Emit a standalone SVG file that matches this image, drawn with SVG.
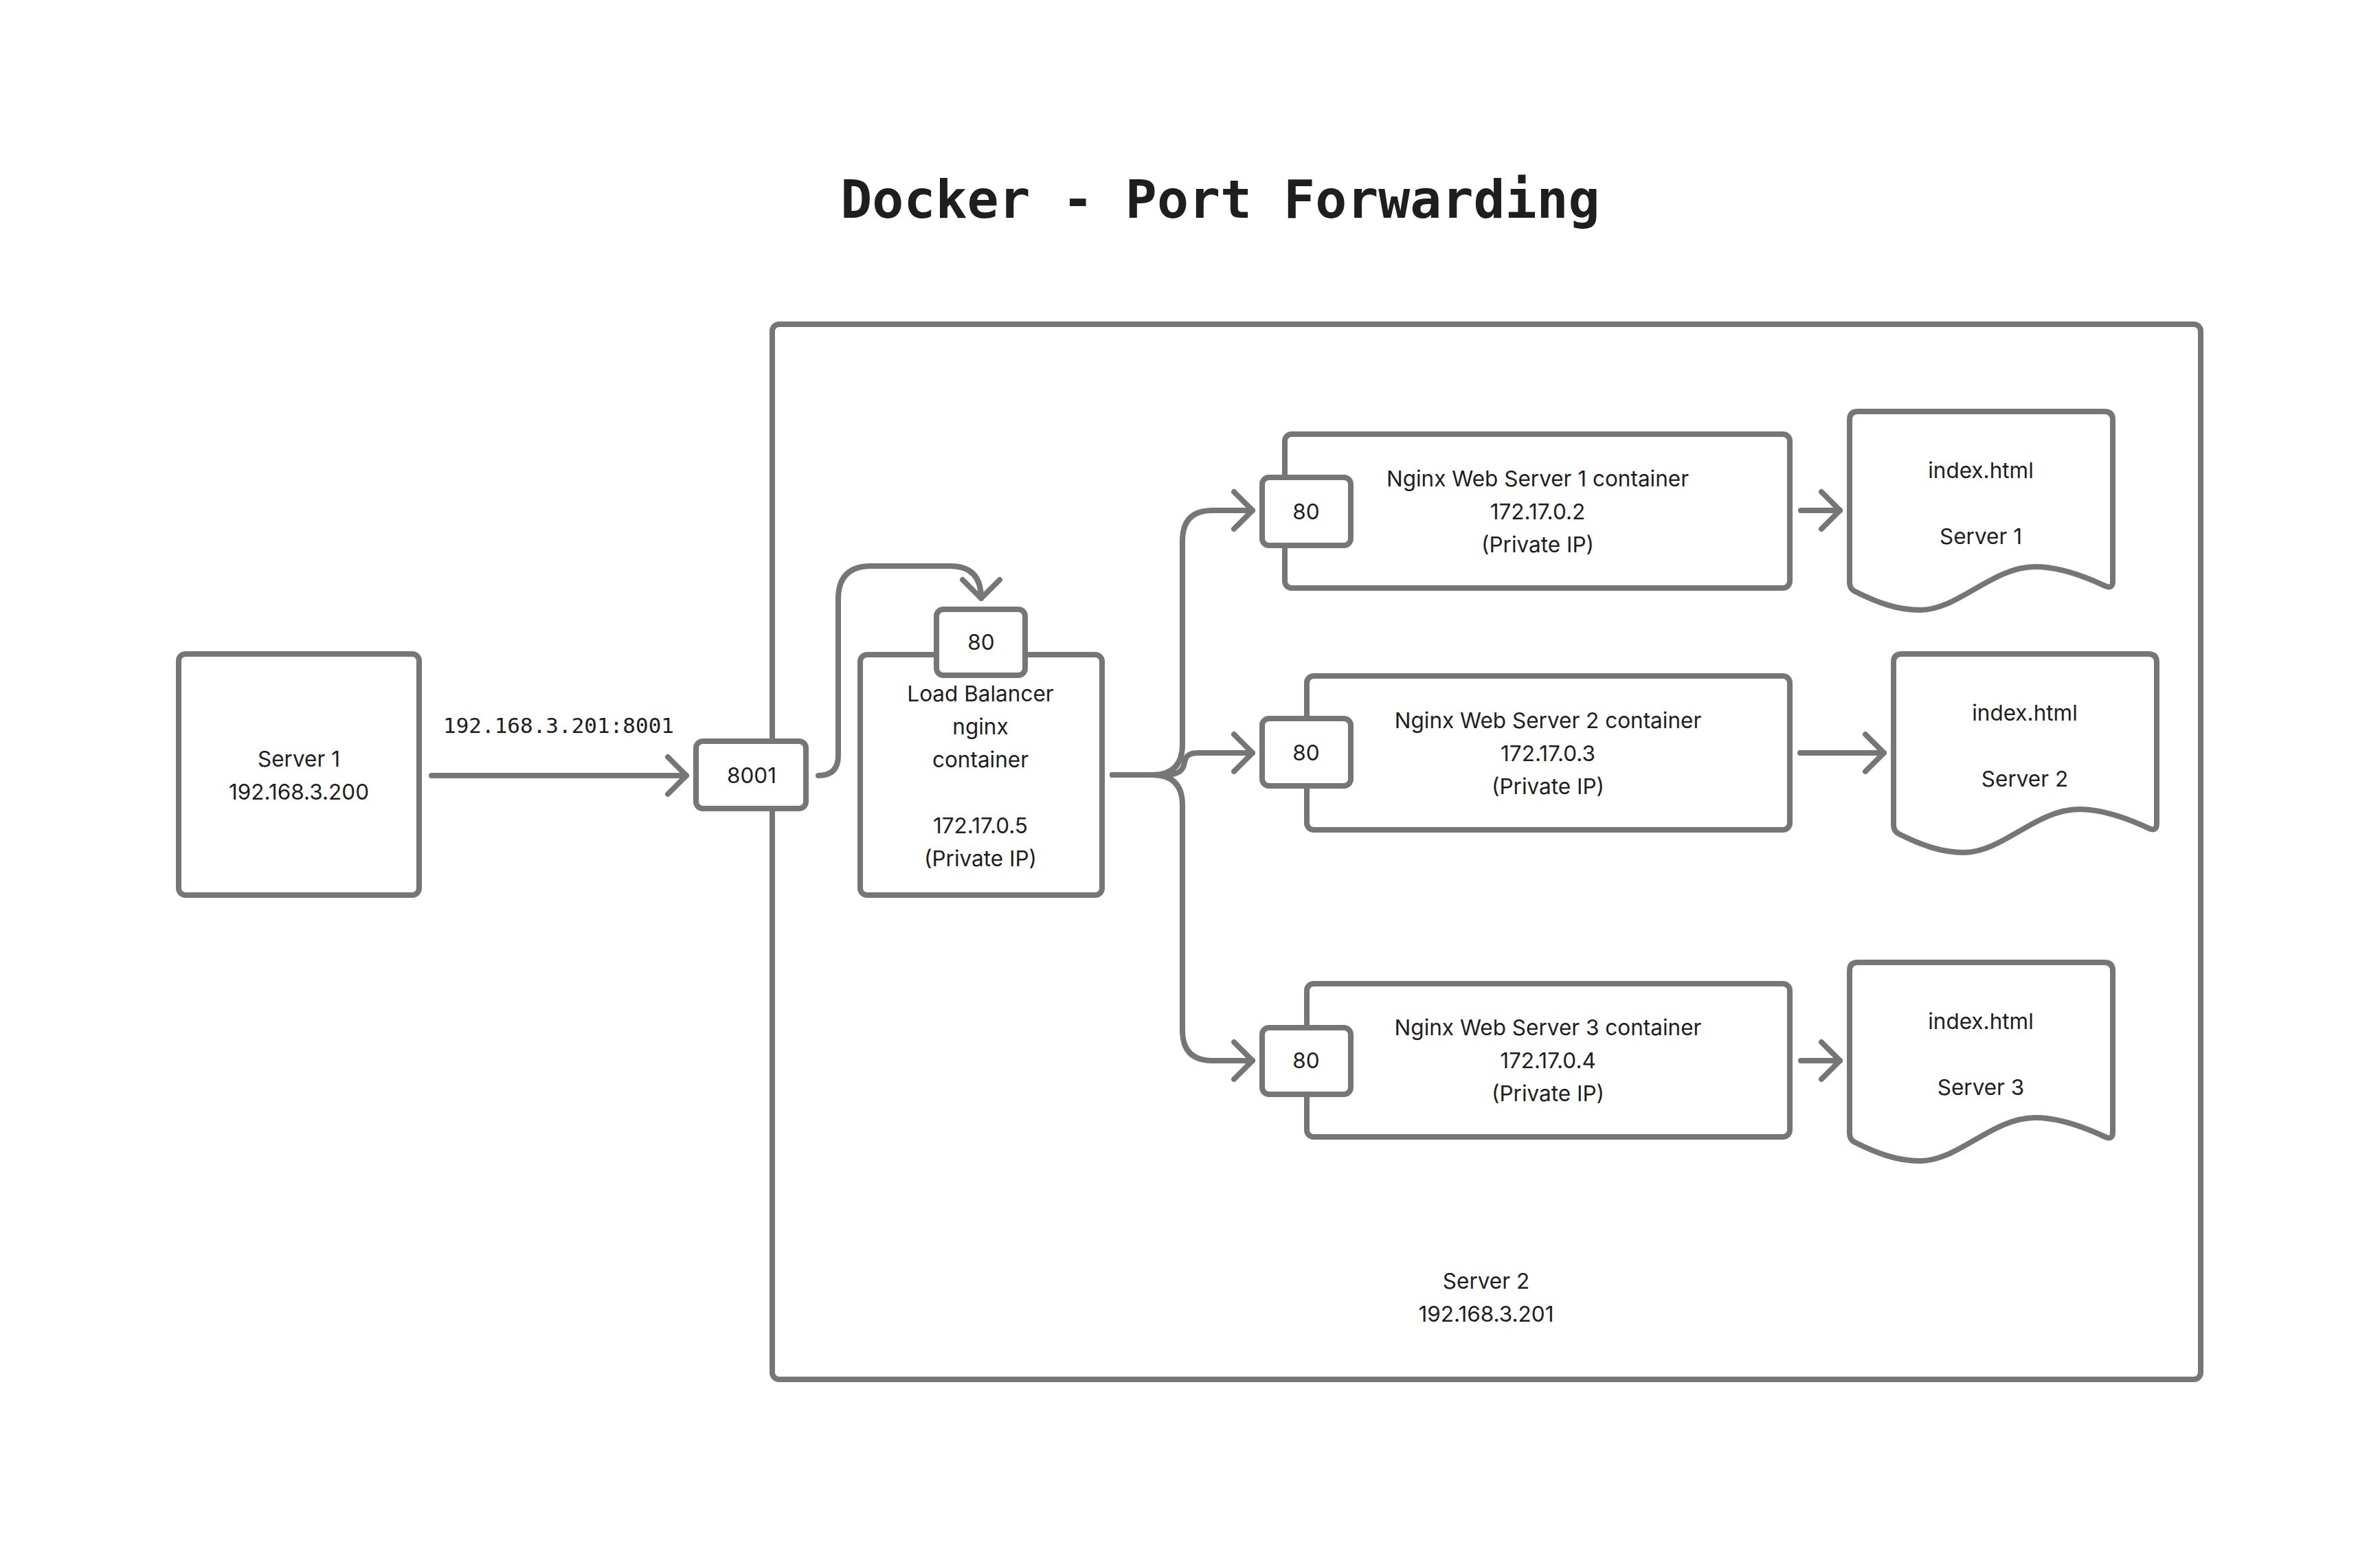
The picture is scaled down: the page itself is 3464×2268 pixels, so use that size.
<svg xmlns="http://www.w3.org/2000/svg" xmlns:xlink="http://www.w3.org/1999/xlink" width="3464" height="2268" viewBox="0 0 3464 2268">
<style>
.box{fill:#ffffff;stroke:#767676;stroke-width:8;}
.port{fill:#ffffff;stroke:#767676;stroke-width:8;}
.edge{fill:none;stroke:#767676;stroke-width:8;stroke-linecap:round;stroke-linejoin:round;}
.t{font-family:Inter,"Noto Sans","Liberation Sans",sans-serif;font-size:31.5px;fill:#1e1e1e;text-anchor:middle;}
.mono{font-family:"DejaVu Sans Mono","Liberation Mono",monospace;fill:#1e1e1e;text-anchor:middle;}
</style>
<defs>
<marker id="arr" markerUnits="userSpaceOnUse" markerWidth="80" markerHeight="80" viewBox="-40 -40 80 80" refX="0" refY="0" orient="auto">
<path d="M-27,-27 L0,0 L-27,27" fill="none" stroke="#767676" stroke-width="8" stroke-linecap="round" stroke-linejoin="round"/>
</marker>
<path id="doc" d="M2692,611 Q2692,599 2704,599 H3063 Q3075,599 3075,611 V846 Q3075,858 3064,853 C3030,837 2995,825 2962,825 C2900,825 2850,888 2795,888 C2760,888 2730,876 2700,861 Q2692,857 2692,848 Z"/>
</defs>
<rect width="3464" height="2268" fill="#ffffff"/>

<text class="mono" x="1776" y="317" font-size="76.5" font-weight="bold">Docker - Port Forwarding</text>

<g id="server2">
<rect class="box" x="1124" y="472" width="2079" height="1536" rx="10"/>
<text class="t" x="2163" y="1876">Server 2</text>
<text class="t" x="2163" y="1924">192.168.3.201</text>
</g>

<g id="server1">
<rect class="box" x="260" y="952" width="350" height="351" rx="10"/>
<text class="t" x="435" y="1116">Server 1</text>
<text class="t" x="435" y="1164">192.168.3.200</text>
</g>

<g id="lb">
<rect class="box" x="1252" y="953" width="352" height="350" rx="10"/>
<text class="t" x="1427" y="1021">Load Balancer</text>
<text class="t" x="1427" y="1069">nginx</text>
<text class="t" x="1427" y="1117">container</text>
<text class="t" x="1427" y="1213">172.17.0.5</text>
<text class="t" x="1427" y="1261">(Private IP)</text>
</g>
<g id="lb-port">
<rect class="port" x="1363" y="887" width="129" height="96" rx="10"/>
<text class="t" x="1428" y="946">80</text>
</g>

<g id="port8001">
<rect class="port" x="1013" y="1079" width="160" height="98" rx="10"/>
<text class="t" x="1094" y="1140">8001</text>
</g>

<g id="ws1">
<rect class="box" x="1870" y="632" width="735" height="224" rx="10"/>
<text class="t" x="2238" y="708">Nginx Web Server 1 container</text>
<text class="t" x="2238" y="756">172.17.0.2</text>
<text class="t" x="2238" y="804">(Private IP)</text>
</g>
<g id="ws1-port">
<rect class="port" x="1837" y="695" width="129" height="99" rx="10"/>
<text class="t" x="1901" y="756">80</text>
</g>

<g id="ws2">
<rect class="box" x="1902" y="984" width="703" height="224" rx="10"/>
<text class="t" x="2253" y="1060">Nginx Web Server 2 container</text>
<text class="t" x="2253" y="1108">172.17.0.3</text>
<text class="t" x="2253" y="1156">(Private IP)</text>
</g>
<g id="ws2-port">
<rect class="port" x="1837" y="1046" width="129" height="98" rx="10"/>
<text class="t" x="1901" y="1107">80</text>
</g>

<g id="ws3">
<rect class="box" x="1902" y="1432" width="703" height="223" rx="10"/>
<text class="t" x="2253" y="1507">Nginx Web Server 3 container</text>
<text class="t" x="2253" y="1555">172.17.0.4</text>
<text class="t" x="2253" y="1603">(Private IP)</text>
</g>
<g id="ws3-port">
<rect class="port" x="1837" y="1496" width="129" height="97" rx="10"/>
<text class="t" x="1901" y="1555">80</text>
</g>

<g id="doc1">
<use xlink:href="#doc" class="box"/>
<text class="t" x="2883" y="696">index.html</text>
<text class="t" x="2883" y="792">Server 1</text>
</g>
<g id="doc2">
<use xlink:href="#doc" class="box" transform="translate(64,353)"/>
<text class="t" x="2947" y="1049">index.html</text>
<text class="t" x="2947" y="1145">Server 2</text>
</g>
<g id="doc3">
<use xlink:href="#doc" class="box" transform="translate(0,802)"/>
<text class="t" x="2883" y="1498">index.html</text>
<text class="t" x="2883" y="1594">Server 3</text>
</g>

<g id="connectors">
<path class="edge" marker-end="url(#arr)" d="M628,1129 H999"/>
<text class="mono" x="813" y="1067" font-size="31">192.168.3.201:8001</text>
<path class="edge" marker-end="url(#arr)" d="M1191,1129 Q1220,1129 1220,1100 V872 Q1220,824 1268,824 H1383 Q1428,824 1428,871"/>
<path class="edge" marker-end="url(#arr)" d="M1619,1128 H1677 Q1721,1128 1721,1084 V787 Q1721,743 1765,743 H1823"/>
<path class="edge" marker-end="url(#arr)" d="M1619,1128 H1695 C1715,1128 1722,1122 1724,1110 C1726,1099 1732,1096 1745,1096 H1823"/>
<path class="edge" marker-end="url(#arr)" d="M1619,1128 H1677 Q1721,1128 1721,1172 V1500 Q1721,1544 1765,1544 H1823"/>
<path class="edge" marker-end="url(#arr)" d="M2621,743 H2678"/>
<path class="edge" marker-end="url(#arr)" d="M2620,1096 H2742"/>
<path class="edge" marker-end="url(#arr)" d="M2621,1544 H2678"/>
</g>
</svg>
